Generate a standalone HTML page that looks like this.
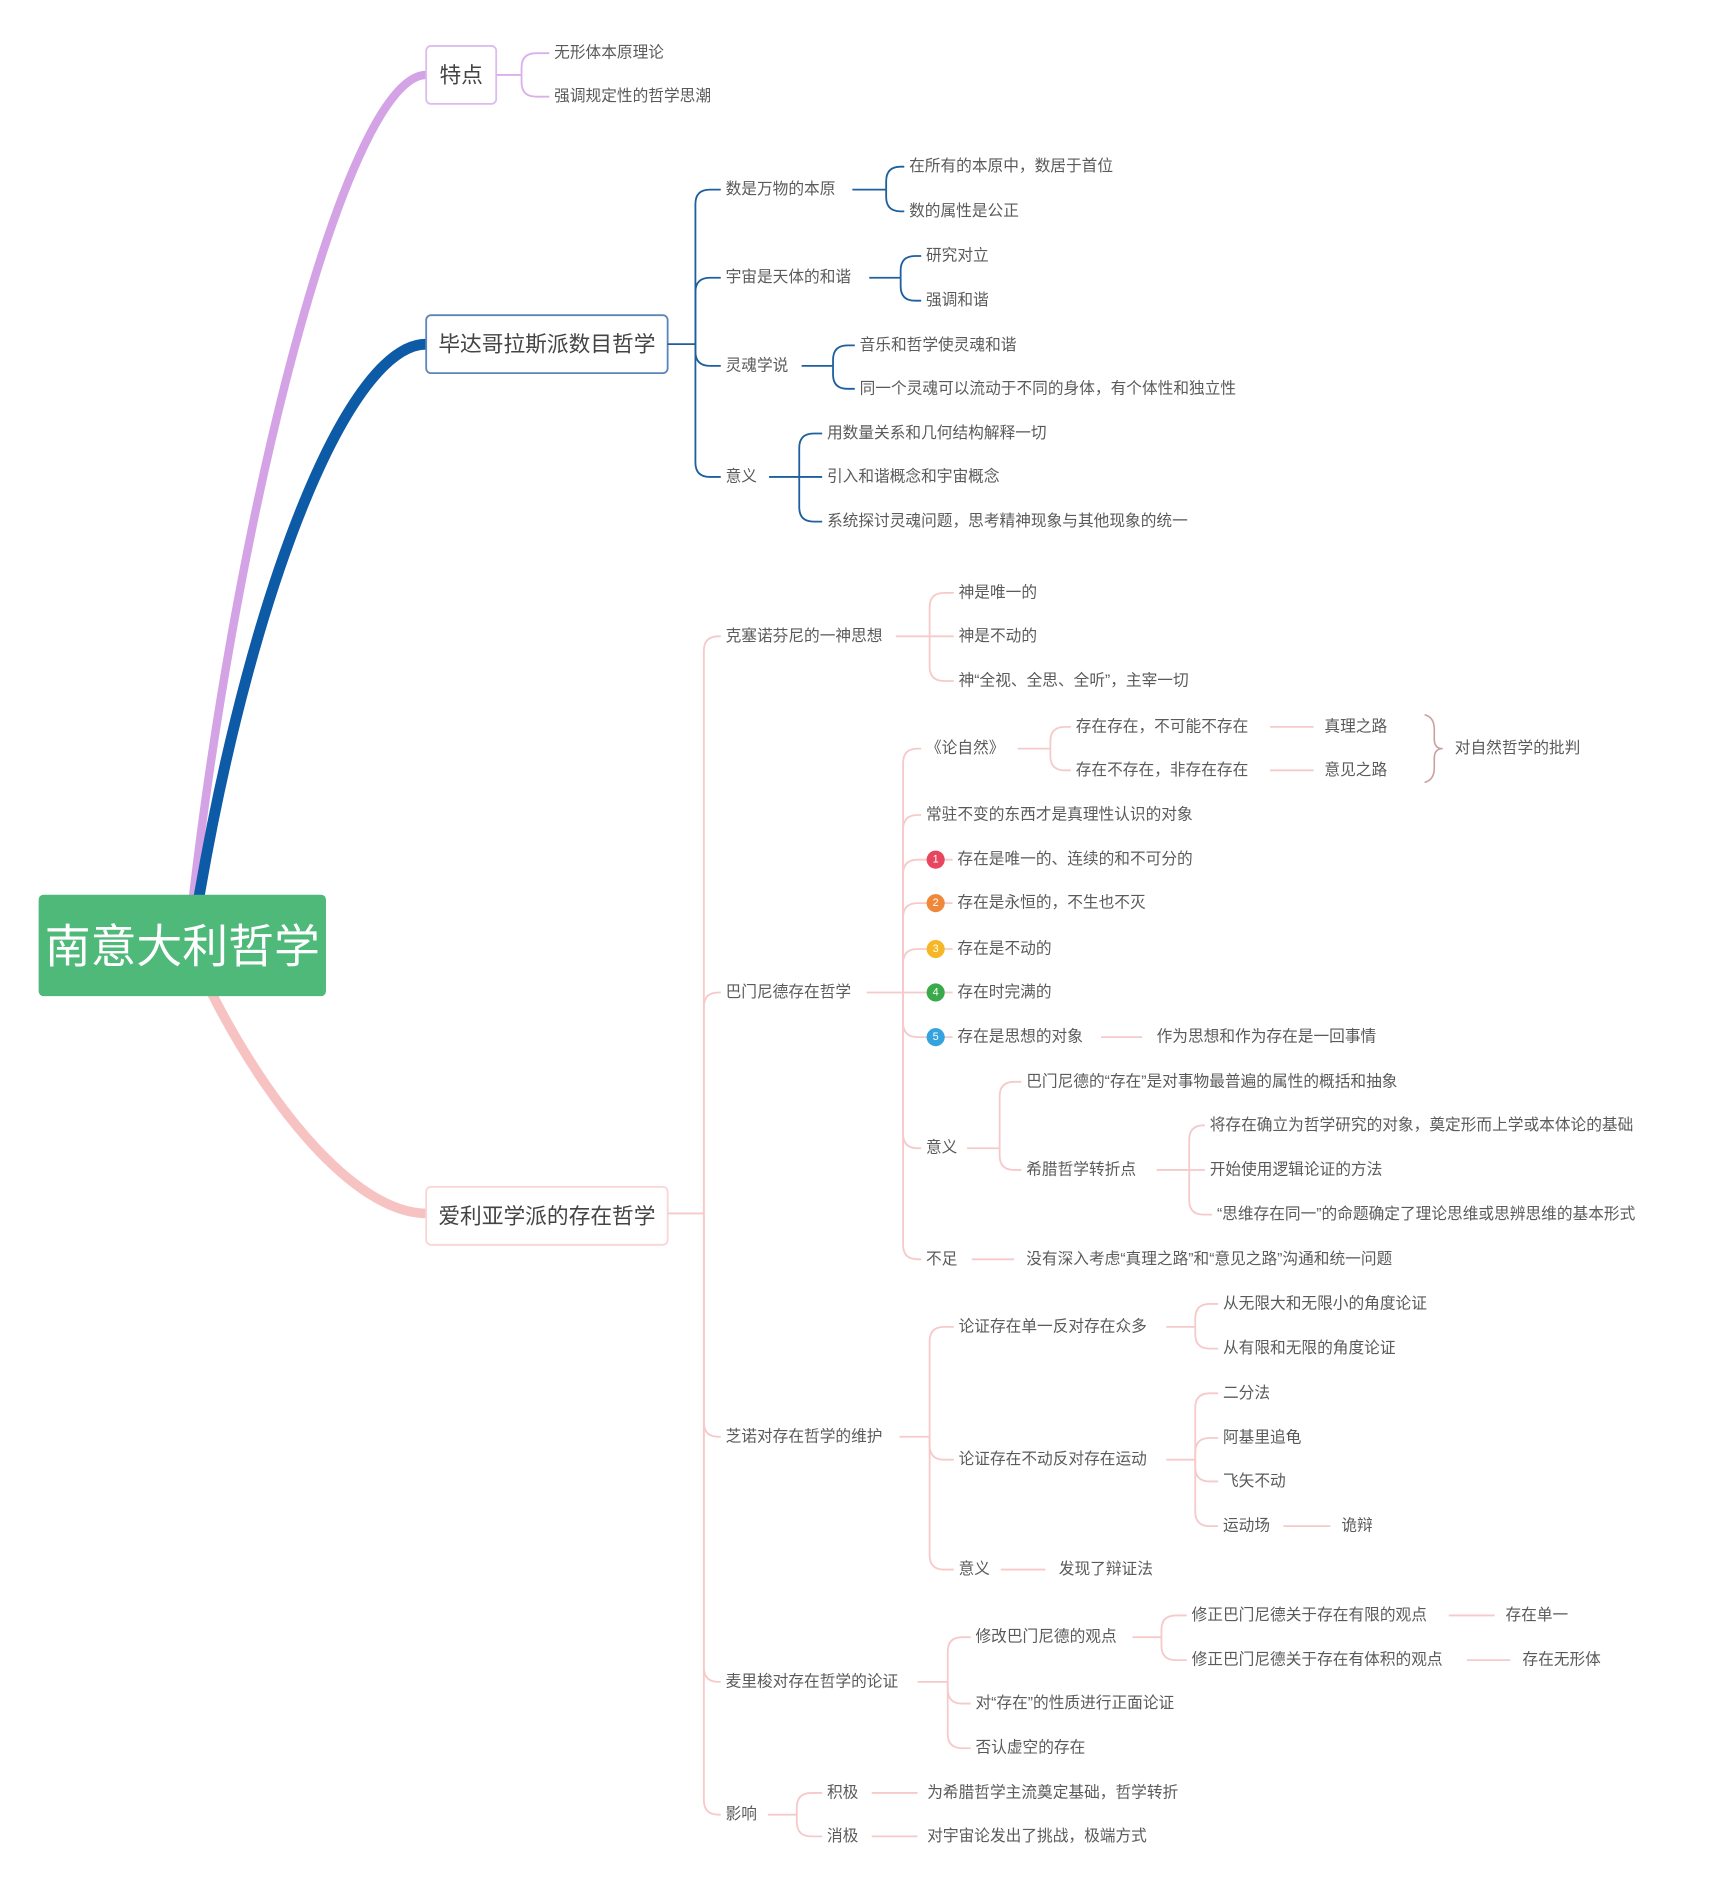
<!DOCTYPE html>
<html><head><meta charset="utf-8">
<style>
html,body{margin:0;padding:0;background:#fff;}
svg{display:block;}
text{font-family:"Liberation Sans","Noto Sans CJK SC",sans-serif;fill:#5a5a5a;dominant-baseline:central;}
</style></head>
<body>
<svg id="s" width="1718" height="1892" viewBox="0 0 1423 1567" xmlns="http://www.w3.org/2000/svg">
<rect width="1423" height="1567" fill="#fff"/>
<path d="M160,742 C200,400 290,62 353,62" stroke="#d4a3e6" stroke-width="7" fill="none"/>
<path d="M165,742 C210,480 290,285 353,285" stroke="#0d5aa7" stroke-width="9" fill="none"/>
<path d="M175,822 C230,930 300,1005 353,1005" stroke="#f7c3c2" stroke-width="8" fill="none"/>
<rect x="32" y="741" width="238" height="84" rx="4" fill="#4fb97a"/>
<text x="151" y="784" text-anchor="middle" style="fill:#fff;font-size:38px">南意大利哲学</text>
<rect x="353" y="38" width="58" height="48" rx="4" fill="#fff" stroke="#dcbcec" stroke-width="1.5"/>
<text x="382" y="62" text-anchor="middle" style="font-size:18px;fill:#444">特点</text>
<rect x="353" y="261" width="200" height="48" rx="4" fill="#fff" stroke="#5a86b8" stroke-width="1.5"/>
<text x="453" y="285" text-anchor="middle" style="font-size:18px;fill:#444">毕达哥拉斯派数目哲学</text>
<rect x="353" y="983" width="200" height="48" rx="4" fill="#fff" stroke="#f8d6d5" stroke-width="1.5"/>
<text x="453" y="1007" text-anchor="middle" style="font-size:18px;fill:#444">爱利亚学派的存在哲学</text>
<g id="g"></g>
</svg>
<script>
var g=document.getElementById('g'),NS='http://www.w3.org/2000/svg';
function P(d,c,w){var p=document.createElementNS(NS,'path');p.setAttribute('d',d);p.setAttribute('stroke',c);p.setAttribute('stroke-width',w||1.5);p.setAttribute('fill','none');g.appendChild(p);}
function T(x,y,s,sz){var t=document.createElementNS(NS,'text');t.setAttribute('x',x);t.setAttribute('y',y);t.setAttribute('font-size',sz||13);t.textContent=s;g.appendChild(t);}
function C(x1,y1,bx,kids,c,w){P('M'+x1+','+y1+'H'+bx,c,w);
 kids.forEach(function(k){var cy=k[1],tx=k[0]-4,r=Math.min(12,Math.abs(cy-y1));
  if(Math.abs(cy-y1)<1){P('M'+bx+','+y1+'H'+tx,c,w);}
  else{var s=cy>y1?1:-1;P('M'+bx+','+y1+'V'+(cy-s*r)+'Q'+bx+','+cy+' '+(bx+r)+','+cy+'H'+tx,c,w);}
  T(k[0],cy,k[2]);});}
function L(x1,x2,y,c){P('M'+x1+','+y+'H'+x2,c,1.5);}
var pu='#d9b0ea',bl='#1e5f9e',pk='#f6caca';
C(411,62,432,[[459,44,'无形体本原理论'],[459,80,'强调规定性的哲学思潮']],pu);
C(553,285,576,[[601,157,'数是万物的本原'],[601,230,'宇宙是天体的和谐'],[601,303,'灵魂学说'],[601,395,'意义']],bl);
C(706,157,734,[[753,138,'在所有的本原中，数居于首位'],[753,175,'数的属性是公正']],bl);
C(720,230,746,[[767,212,'研究对立'],[767,249,'强调和谐']],bl);
C(664,303,690,[[712,286,'音乐和哲学使灵魂和谐'],[712,322,'同一个灵魂可以流动于不同的身体，有个体性和独立性']],bl);
C(637,395,662,[[685,359,'用数量关系和几何结构解释一切'],[685,395,'引入和谐概念和宇宙概念'],[685,432,'系统探讨灵魂问题，思考精神现象与其他现象的统一']],bl);
C(553,1005,583,[[601,527,'克塞诺芬尼的一神思想'],[601,822,'巴门尼德存在哲学'],[601,1190,'芝诺对存在哲学的维护'],[601,1393,'麦里梭对存在哲学的论证'],[601,1503,'影响']],pk);
C(742,527,770,[[794,491,'神是唯一的'],[794,527,'神是不动的'],[794,564,'神“全视、全思、全听”，主宰一切']],pk);
C(718,822,748,[[767,620,'《论自然》'],[767,675,'常驻不变的东西才是真理性认识的对象'],[793,712,'存在是唯一的、连续的和不可分的'],[793,748,'存在是永恒的，不生也不灭'],[793,786,'存在是不动的'],[793,822,'存在时完满的'],[793,859,'存在是思想的对象'],[767,951,'意义'],[767,1043,'不足']],pk);
[['#e8465e',712,'1'],['#f0883a',748,'2'],['#f6b626',786,'3'],['#39a94a',822,'4'],['#34a3de',859,'5']].forEach(function(b){var c=document.createElementNS(NS,'circle');c.setAttribute('cx',775);c.setAttribute('cy',b[1]);c.setAttribute('r',7.5);c.setAttribute('fill',b[0]);g.appendChild(c);var t=document.createElementNS(NS,'text');t.setAttribute('x',775);t.setAttribute('y',b[1]);t.setAttribute('font-size',9);t.setAttribute('text-anchor','middle');t.setAttribute('style','fill:#fff');t.textContent=b[2];g.appendChild(t);});
C(843,620,870,[[891,602,'存在存在，不可能不存在'],[891,638,'存在不存在，非存在存在']],pk);
L(1052,1088,602,pk);T(1097,602,'真理之路');L(1052,1088,638,pk);T(1097,638,'意见之路');
P('M1180,592 Q1188,594 1188,604 V612 Q1188,620 1195,620 Q1188,620 1188,628 V636 Q1188,646 1180,648','#c9a0a0',1.3);
T(1205,620,'对自然哲学的批判');
L(912,946,859,pk);T(958,859,'作为思想和作为存在是一回事情');
C(801,951,828,[[850,896,'巴门尼德的“存在”是对事物最普遍的属性的概括和抽象'],[850,969,'希腊哲学转折点']],pk);
C(958,969,985,[[1002,932,'将存在确立为哲学研究的对象，奠定形而上学或本体论的基础'],[1002,969,'开始使用逻辑论证的方法'],[1008,1006,'“思维存在同一”的命题确定了理论思维或思辨思维的基本形式']],pk);
L(805,840,1043,pk);T(850,1043,'没有深入考虑“真理之路”和“意见之路”沟通和统一问题');
C(745,1190,770,[[794,1099,'论证存在单一反对存在众多'],[794,1209,'论证存在不动反对存在运动'],[794,1300,'意义']],pk);
C(966,1099,990,[[1013,1080,'从无限大和无限小的角度论证'],[1013,1117,'从有限和无限的角度论证']],pk);
C(966,1209,990,[[1013,1154,'二分法'],[1013,1191,'阿基里追龟'],[1013,1227,'飞矢不动'],[1013,1264,'运动场']],pk);
L(1063,1102,1264,pk);T(1111,1264,'诡辩');
L(829,866,1300,pk);T(877,1300,'发现了辩证法');
C(760,1393,785,[[808,1356,'修改巴门尼德的观点'],[808,1411,'对“存在”的性质进行正面论证'],[808,1448,'否认虚空的存在']],pk);
C(938,1356,962,[[987,1338,'修正巴门尼德关于存在有限的观点'],[987,1375,'修正巴门尼德关于存在有体积的观点']],pk);
L(1200,1238,1338,pk);T(1247,1338,'存在单一');L(1215,1251,1375,pk);T(1261,1375,'存在无形体');
C(636,1503,660,[[685,1485,'积极'],[685,1521,'消极']],pk);
L(722,760,1485,pk);T(768,1485,'为希腊哲学主流奠定基础，哲学转折');
L(722,760,1521,pk);T(768,1521,'对宇宙论发出了挑战，极端方式');
</script>
</body></html>
